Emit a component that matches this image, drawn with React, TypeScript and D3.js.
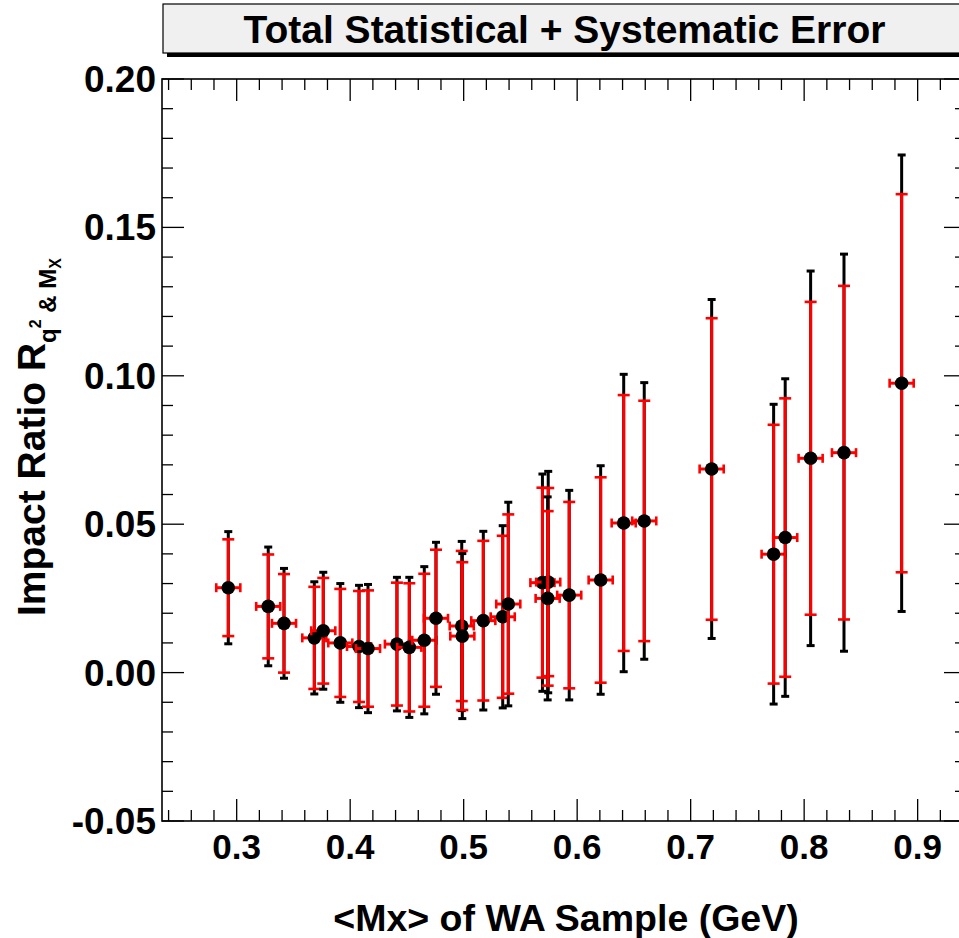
import React from "react";
import * as d3 from "d3";

// ---- data ----
const mx = [0.2926, 0.3278, 0.3417, 0.3684, 0.3763, 0.3913, 0.4078, 0.4157, 0.4412, 0.4521, 0.4653, 0.4756, 0.4983, 0.4988, 0.5173, 0.5344, 0.5393, 0.5694, 0.5745, 0.5740, 0.5930, 0.6207, 0.6410, 0.6591, 0.7185, 0.7731, 0.7833, 0.8057, 0.8351, 0.8859];
const ratio = [0.0286, 0.0223, 0.0166, 0.0117, 0.0141, 0.0100, 0.0088, 0.0081, 0.0096, 0.0085, 0.0109, 0.0183, 0.0157, 0.0123, 0.0175, 0.0188, 0.0231, 0.0303, 0.0305, 0.0250, 0.0261, 0.0312, 0.0504, 0.0511, 0.0686, 0.0399, 0.0455, 0.0722, 0.0741, 0.0975];
const totalErr = [0.0189, 0.0200, 0.0185, 0.0189, 0.0197, 0.0200, 0.0206, 0.0216, 0.0225, 0.0236, 0.0248, 0.0256, 0.0285, 0.0278, 0.0301, 0.0307, 0.0343, 0.0366, 0.0373, 0.0342, 0.0353, 0.0385, 0.0501, 0.0466, 0.0571, 0.0505, 0.0535, 0.0631, 0.0669, 0.0769];
const partErr = [0.0163, 0.0175, 0.0166, 0.0172, 0.0178, 0.0182, 0.0187, 0.0196, 0.0207, 0.0216, 0.0224, 0.0231, 0.0253, 0.0249, 0.0269, 0.0273, 0.0302, 0.0320, 0.0317, 0.0294, 0.0314, 0.0346, 0.0431, 0.0405, 0.0508, 0.0436, 0.0469, 0.0527, 0.0562, 0.0637];
const mxErr = 0.0106;

const xTickLabels = ["0.3", "0.4", "0.5", "0.6", "0.7", "0.8", "0.9"];
const yTickLabels = ["-0.05", "0.00", "0.05", "0.10", "0.15", "0.20"];

const titleText = "Total Statistical + Systematic Error";
const xTitle = "<Mx> of WA Sample (GeV)";

const W = 959, H = 938;
const L = 162, R = 966, T = 79, B = 821;
const FONT = "'Liberation Sans', Arial, Helvetica, sans-serif";

export default function App() {
  const x = d3.scaleLinear().domain([0.2342, 0.9426]).range([L, R]);
  const y = d3.scaleLinear().domain([-0.05, 0.2]).range([B, T]);

  const xMinor = d3.range(0.24, 0.9426, 0.02).map((v) => +v.toFixed(3));
  const yMinor = d3.range(-0.05, 0.2001, 0.01).map((v) => +v.toFixed(3));
  const isMajorX = (v: number) => Math.abs(Math.round(v * 10) - v * 10) < 1e-6;
  const isMajorY = (v: number) => Math.abs(Math.round(v * 20) - v * 20) < 1e-6;

  const majorLen = 22, minorLen = 11;

  return (
    <svg width={W} height={H} style={{ position: "absolute", left: 0, top: 0, background: "#fff" }} fontFamily={FONT}>
      <rect x={0} y={0} width={W} height={H} fill="#fff" />
      {/* title box */}
      <rect x={167} y={8} width={803} height={49} fill="#000" />
      <rect x={163} y={4} width={803} height={49} fill="#f0f0f0" stroke="#000" strokeWidth={1.2} />
      <text x={564.5} y={43} textAnchor="middle" fontSize={39} fontWeight="bold">{titleText}</text>

      {/* frame */}
      <rect x={L} y={T} width={R - L} height={B - T} fill="none" stroke="#000" strokeWidth={1.6} />

      {/* x ticks */}
      {xMinor.map((v, i) => {
        const len = isMajorX(v) ? majorLen : minorLen;
        const px = x(v);
        return (
          <g key={"xt" + i}>
            <line x1={px} x2={px} y1={B} y2={B - len} stroke="#000" strokeWidth={1.3} />
            <line x1={px} x2={px} y1={T} y2={T + len} stroke="#000" strokeWidth={1.3} />
          </g>
        );
      })}
      {/* y ticks */}
      {yMinor.map((v, i) => {
        const len = isMajorY(v) ? majorLen : minorLen;
        const py = y(v);
        return (
          <g key={"yt" + i}>
            <line x1={L} x2={L + len} y1={py} y2={py} stroke="#000" strokeWidth={1.3} />
            <line x1={R} x2={R - len} y1={py} y2={py} stroke="#000" strokeWidth={1.3} />
          </g>
        );
      })}

      {/* tick labels */}
      {xTickLabels.map((t) => (
        <text key={"xl" + t} x={x(+t)} y={859} textAnchor="middle" fontSize={35} fontWeight="bold">{t}</text>
      ))}
      {yTickLabels.map((t) => (
        <text key={"yl" + t} x={156} y={y(+t) + 13} textAnchor="end" fontSize={37} fontWeight="bold">{t}</text>
      ))}

      {/* axis titles */}
      <text x={566} y={931} textAnchor="middle" fontSize={37.5} fontWeight="bold">{xTitle}</text>
      <text transform="translate(45,437) rotate(-90)" textAnchor="middle" fontSize={39} fontWeight="bold">
        Impact Ratio R
        <tspan fontSize={24} dy={11}>q</tspan>
        <tspan fontSize={16} dy={-15}>2</tspan>
        <tspan fontSize={24} dy={15}>{" & M"}</tspan>
        <tspan fontSize={16} dy={5}>X</tspan>
      </text>

      {/* data */}
      {mx.map((xv, i) => {
        const cx = x(xv);
        const cy = y(ratio[i]);
        const bt = y(ratio[i] + totalErr[i]);
        const bb = y(ratio[i] - totalErr[i]);
        const rt = y(ratio[i] + partErr[i]);
        const rb = y(ratio[i] - partErr[i]);
        const hl = x(xv - mxErr);
        const hr = x(xv + mxErr);
        return (
          <g key={"p" + i}>
            <line x1={cx} x2={cx} y1={bt} y2={bb} stroke="#000" strokeWidth={3} />
            <line x1={cx - 4} x2={cx + 4} y1={bt} y2={bt} stroke="#000" strokeWidth={3} />
            <line x1={cx - 4} x2={cx + 4} y1={bb} y2={bb} stroke="#000" strokeWidth={3} />
            <line x1={cx} x2={cx} y1={rt} y2={rb} stroke="#ff0000" strokeWidth={3} />
            <line x1={cx - 6} x2={cx + 6} y1={rt} y2={rt} stroke="#ff0000" strokeWidth={2.6} />
            <line x1={cx - 6} x2={cx + 6} y1={rb} y2={rb} stroke="#ff0000" strokeWidth={2.6} />
            <line x1={hl} x2={hr} y1={cy} y2={cy} stroke="#ff0000" strokeWidth={3} />
            <line x1={hl} x2={hl} y1={cy - 4.5} y2={cy + 4.5} stroke="#ff0000" strokeWidth={2.6} />
            <line x1={hr} x2={hr} y1={cy - 4.5} y2={cy + 4.5} stroke="#ff0000" strokeWidth={2.6} />
            <circle cx={cx} cy={cy} r={6.8} fill="#000" />
          </g>
        );
      })}
    </svg>
  );
}
